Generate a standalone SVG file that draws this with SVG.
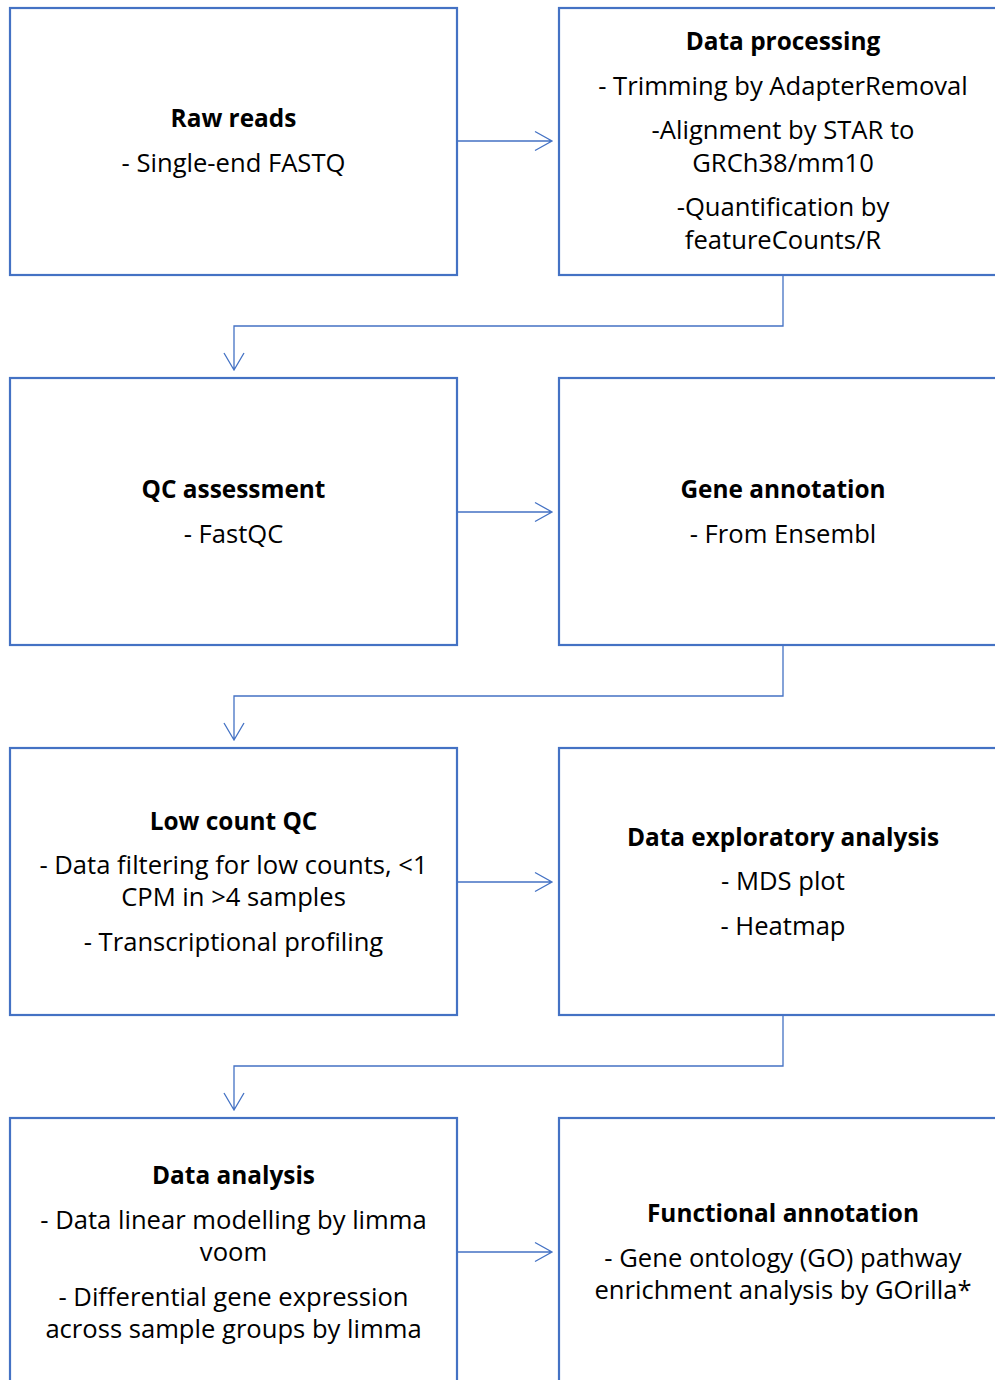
<svg xmlns="http://www.w3.org/2000/svg" width="995" height="1380" viewBox="0 0 995 1380">
<defs>
<style>
.box{fill:#fff;stroke:#4472C4;stroke-width:2.2}
.con{fill:none;stroke:#4472C4;stroke-width:1.3}
text{font-family:"Open Sans",Lato,sans-serif;font-size:25.6px;fill:#000;text-anchor:middle}
.t{font-weight:bold;font-size:24.4px}
</style>
</defs>
<rect width="995" height="1380" fill="#fff"/>
<g id="connectors">
<path class="con" d="M457,141 H552 M535,131.5 L552,141 L535,150.5"/>
<path class="con" d="M783,276 V326 H234 V370 M224,353 L234,370 L244,353"/>
<path class="con" d="M457,512 H552 M535,502.5 L552,512 L535,521.5"/>
<path class="con" d="M783,646 V696 H234 V740 M224,723 L234,740 L244,723"/>
<path class="con" d="M457,882 H552 M535,872.5 L552,882 L535,891.5"/>
<path class="con" d="M783,1016 V1066 H234 V1110 M224,1093 L234,1110 L244,1093"/>
<path class="con" d="M457,1252 H552 M535,1242.5 L552,1252 L535,1261.5"/>
</g>
<g id="raw-reads">
<rect class="box" x="10" y="8" width="447" height="267"/>
<text class="t" x="233.5" y="127">Raw reads</text>
<text x="233.5" y="172">- Single-end FASTQ</text>
</g>
<g id="data-processing">
<rect class="box" x="559" y="8" width="448" height="267"/>
<text class="t" x="783" y="50">Data processing</text>
<text x="783" y="95">- Trimming by AdapterRemoval</text>
<text x="783" y="139">-Alignment by STAR to</text>
<text x="783" y="172">GRCh38/mm10</text>
<text x="783" y="216">-Quantification by</text>
<text x="783" y="249">featureCounts/R</text>
</g>
<g id="qc-assessment">
<rect class="box" x="10" y="378" width="447" height="267"/>
<text class="t" x="233.5" y="498">QC assessment</text>
<text x="233.5" y="543">- FastQC</text>
</g>
<g id="gene-annotation">
<rect class="box" x="559" y="378" width="448" height="267"/>
<text class="t" x="783" y="498">Gene annotation</text>
<text x="783" y="543">- From Ensembl</text>
</g>
<g id="low-count-qc">
<rect class="box" x="10" y="748" width="447" height="267"/>
<text class="t" x="233.5" y="830">Low count QC</text>
<text x="233.5" y="874">- Data filtering for low counts, &lt;1</text>
<text x="233.5" y="906">CPM in &gt;4 samples</text>
<text x="233.5" y="951">- Transcriptional profiling</text>
</g>
<g id="data-exploratory">
<rect class="box" x="559" y="748" width="448" height="267"/>
<text class="t" x="783" y="846">Data exploratory analysis</text>
<text x="783" y="890">- MDS plot</text>
<text x="783" y="935">- Heatmap</text>
</g>
<g id="data-analysis">
<rect class="box" x="10" y="1118" width="447" height="300"/>
<text class="t" x="233.5" y="1184">Data analysis</text>
<text x="233.5" y="1229">- Data linear modelling by limma</text>
<text x="233.5" y="1261">voom</text>
<text x="233.5" y="1306">- Differential gene expression</text>
<text x="233.5" y="1338">across sample groups by limma</text>
</g>
<g id="functional-annotation">
<rect class="box" x="559" y="1118" width="448" height="300"/>
<text class="t" x="783" y="1222">Functional annotation</text>
<text x="783" y="1267">- Gene ontology (GO) pathway</text>
<text x="783" y="1299">enrichment analysis by GOrilla*</text>
</g>
</svg>
